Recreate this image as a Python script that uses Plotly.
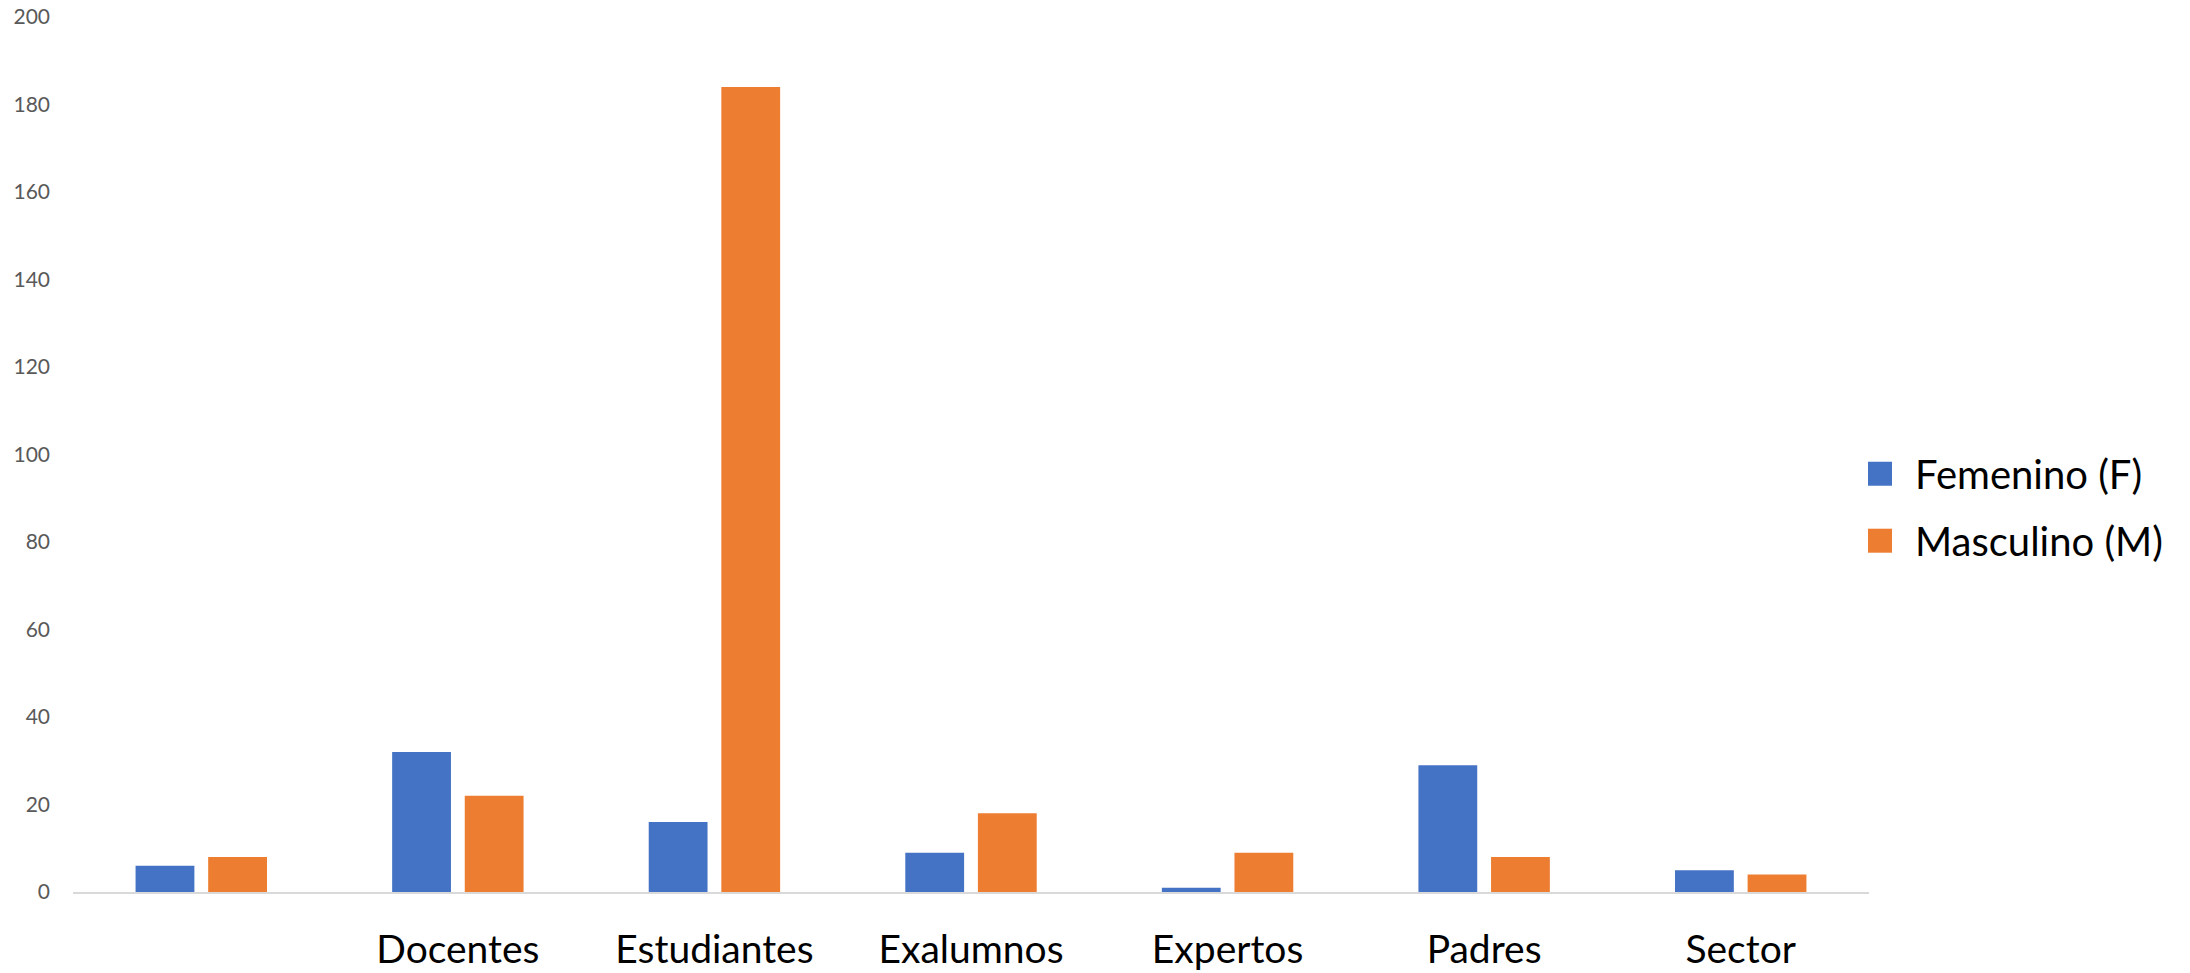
import plotly.graph_objects as go

categories = [" ", "Docentes", "Estudiantes", "Exalumnos", "Expertos", "Padres", "Sector"]
femenino = [6, 32, 16, 9, 1, 29, 5]
masculino = [8, 22, 184, 18, 9, 8, 4]
series_names = ["Femenino (F)", "Masculino (M)"]
colors = ["#4472C4", "#ED7D31"]
y_ticks = list(range(0, 201, 20))

W, H = 2190, 973
L = 73
T = 17
plot_right = 1869
plot_bottom = 892.5
R = W - plot_right
B = H - plot_bottom
ph = plot_bottom - T

fig = go.Figure()
for name, vals, col in zip(series_names, [femenino, masculino], colors):
    fig.add_trace(go.Bar(x=categories, y=vals, name=name, marker_color=col,
                         marker_line_width=0, showlegend=False))

# manual legend with larger squares (Excel style)
FONT = "Lato, Carlito, Calibri, sans-serif"
leg_y_px = [474, 541]
for name, col, ypx in zip(series_names, colors, leg_y_px):
    yc = (plot_bottom - ypx) / ph
    fig.add_shape(type="rect", xref="paper", yref="paper",
                  xsizemode="pixel", ysizemode="pixel",
                  xanchor=1.0, yanchor=yc,
                  x0=-1, x1=23, y0=-12, y1=12,
                  fillcolor=col, line_width=0)
    fig.add_annotation(x=1.0, y=yc, xref="paper", yref="paper", xshift=44,
                       text=name, showarrow=False, xanchor="left", yanchor="middle",
                       font=dict(family=FONT, size=40, color="#000000"))

fig.update_layout(
    width=W, height=H,
    margin=dict(l=L, r=R, t=T, b=B, autoexpand=False),
    paper_bgcolor="white", plot_bgcolor="white",
    barmode="group", bargap=0.434, bargroupgap=0.19,
    font=dict(family=FONT),
    showlegend=False,
)
fig.update_xaxes(showgrid=False, showline=True, linecolor="#D9D9D9", linewidth=2,
                 ticks="", tickfont=dict(family=FONT, size=39, color="#000000"),
                 ticklabelstandoff=22, automargin=False, zeroline=False,
                 ticklabeloverflow="allow")
fig.update_yaxes(range=[0, 200], tickvals=y_ticks, showgrid=False, showline=False,
                 zeroline=False, ticks="", tickfont=dict(family=FONT, size=21, color="#595959"),
                 ticklabelstandoff=22, automargin=False, ticklabeloverflow="allow")

fig.write_html("out.html", config={"displayModeBar": False},
               post_script="document.body.style.margin='0px';document.body.style.overflow='hidden';")
